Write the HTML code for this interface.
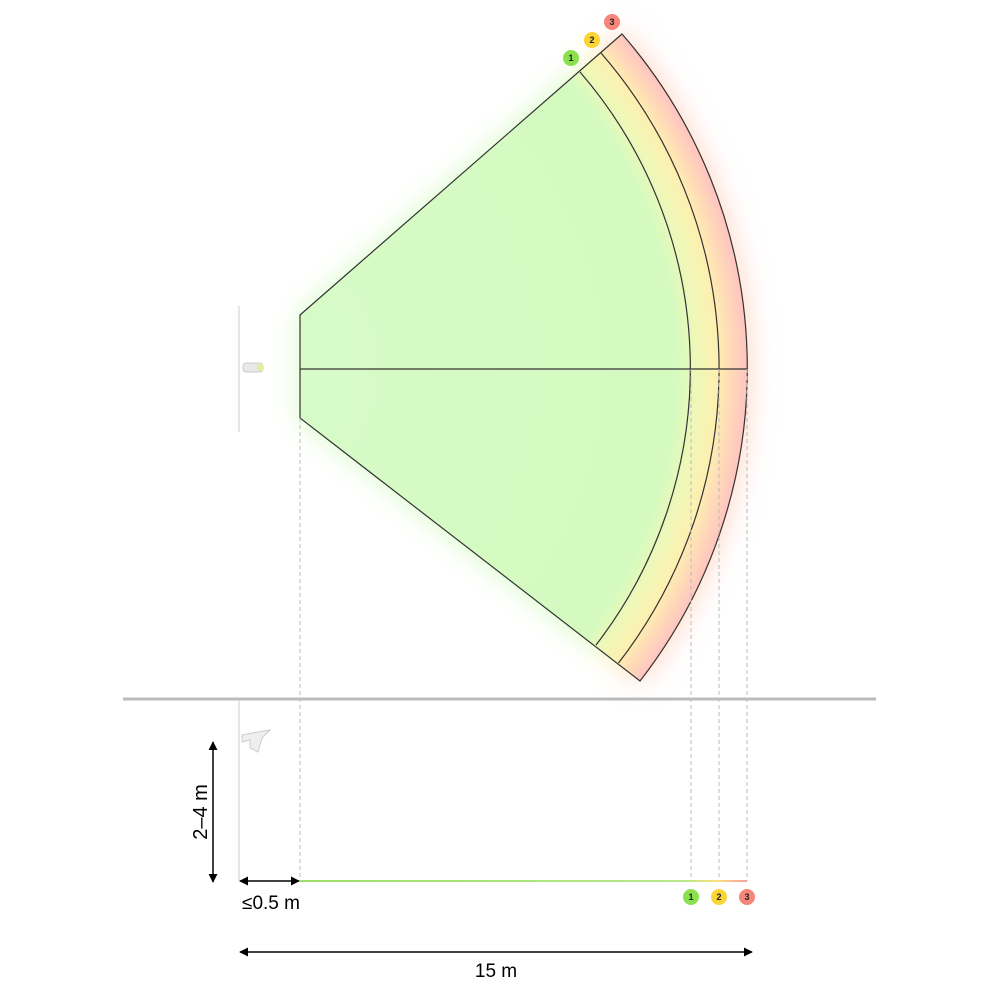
<!DOCTYPE html>
<html><head><style>body{margin:0;background:#fff}svg{display:block}</style></head><body>
<svg width="1000" height="1000" viewBox="0 0 1000 1000" xmlns="http://www.w3.org/2000/svg" font-family="Liberation Sans, sans-serif">
<defs>
<radialGradient id="rg" gradientUnits="userSpaceOnUse" cx="238" cy="369" r="509">
<stop offset="0" stop-color="#d8fbc8"/>
<stop offset="0.86" stop-color="#d4fac0"/>
<stop offset="0.9" stop-color="#eef8b8"/>
<stop offset="0.94" stop-color="#fdf0b0"/>
<stop offset="0.97" stop-color="#ffd9b8"/>
<stop offset="1" stop-color="#ffc4c0"/>
</radialGradient>
<linearGradient id="lg" x1="300" x2="747" gradientUnits="userSpaceOnUse">
<stop offset="0" stop-color="#9be06a"/><stop offset="0.86" stop-color="#b8e88a"/><stop offset="0.93" stop-color="#fbe27a"/><stop offset="1" stop-color="#f8a0a0"/>
</linearGradient>
<filter id="bl" x="-20%" y="-20%" width="140%" height="140%"><feGaussianBlur stdDeviation="14"/></filter>
<filter id="bl2" x="-20%" y="-200%" width="140%" height="500%"><feGaussianBlur stdDeviation="4"/></filter>
<marker id="ar" viewBox="0 0 10 10" refX="9" refY="5" markerWidth="6" markerHeight="6" orient="auto-start-reverse"><path d="M0,0L10,5L0,10z" fill="#000"/></marker>
</defs>
<path d="M300,315 L622,34 A509 509 0 0 1 640,681 L300,418 Z" fill="url(#rg)" filter="url(#bl)"/>
<path d="M300,315 L622,34 A509 509 0 0 1 640,681 L300,418 Z" fill="url(#rg)"/>
<g fill="none" stroke="#333" stroke-width="1.2">
<path d="M300,315 L622,34 A509 509 0 0 1 640,681 L300,418 Z"/>
<path d="M580,72 A453 453 0 0 1 596,645"/>
<path d="M601,53 A481 481 0 0 1 618.5,663"/>
<line x1="300" y1="369" x2="747" y2="369"/>
</g>
<g stroke="#bbb" stroke-width="1" stroke-dasharray="4,3">
<line x1="300" y1="418" x2="300" y2="881"/>
<line x1="691" y1="369" x2="691" y2="881"/>
<line x1="719" y1="369" x2="719" y2="881"/>
<line x1="747" y1="369" x2="747" y2="881"/>
</g>
<line x1="239" y1="306" x2="239" y2="432" stroke="#ccc"/>
<rect x="243" y="363" width="20" height="9" rx="3" fill="#e8e8e8" stroke="#ccc"/>
<rect x="257" y="364" width="6" height="7" fill="#e0f0a0"/>
<line x1="123" y1="699" x2="876" y2="699" stroke="#bbb" stroke-width="3"/>
<line x1="239" y1="700" x2="239" y2="881" stroke="#ccc"/>
<path d="M242,735 L252,733 L270,730 L262,738 L258,752 L250,748 L250,740 L242,742 Z" fill="#eee" stroke="#ccc"/>
<line x1="300" y1="881" x2="747" y2="881" stroke="url(#lg)" stroke-width="8" filter="url(#bl2)"/>
<line x1="300" y1="881" x2="747" y2="881" stroke="url(#lg)" stroke-width="2"/>
<g stroke="#000" stroke-width="1.5">
<line x1="213" y1="742" x2="213" y2="882" marker-start="url(#ar)" marker-end="url(#ar)"/>
<line x1="240" y1="881" x2="299" y2="881" marker-start="url(#ar)" marker-end="url(#ar)"/>
<line x1="240" y1="952" x2="752" y2="952" marker-start="url(#ar)" marker-end="url(#ar)"/>
</g>
<text x="207" y="812" font-size="20" text-anchor="middle" transform="rotate(-90 207 812)">2–4 m</text>
<text x="271" y="909" font-size="19" text-anchor="middle">≤0.5 m</text>
<text x="496" y="977" font-size="19" text-anchor="middle">15 m</text>
<g font-size="9" font-weight="bold" text-anchor="middle" fill="#222">
<circle cx="571" cy="58" r="8" fill="#8be04e"/><text x="571" y="61">1</text>
<circle cx="592" cy="40" r="8" fill="#fbd535"/><text x="592" y="43">2</text>
<circle cx="612" cy="22" r="8" fill="#f7867a"/><text x="612" y="25">3</text>
<circle cx="691" cy="897" r="8" fill="#8be04e"/><text x="691" y="900">1</text>
<circle cx="719" cy="897" r="8" fill="#fbd535"/><text x="719" y="900">2</text>
<circle cx="747" cy="897" r="8" fill="#f7867a"/><text x="747" y="900">3</text>
</g>
</svg>
</body></html>
